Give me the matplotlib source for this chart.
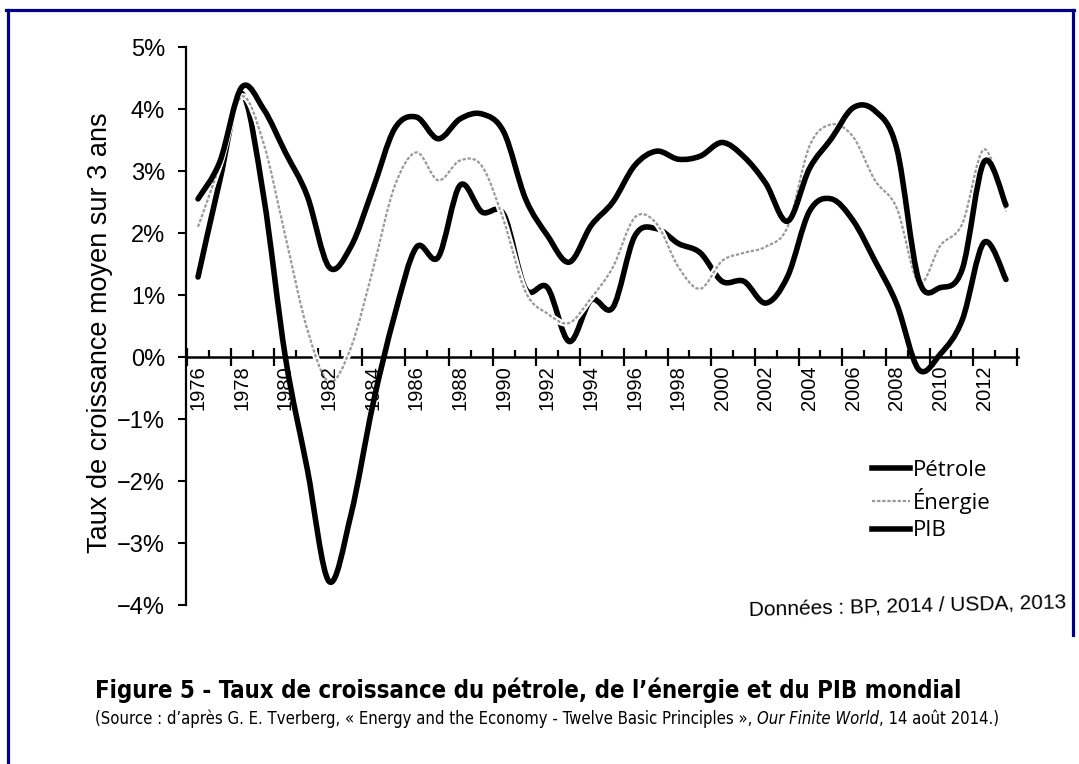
import matplotlib
matplotlib.use("Agg")
import matplotlib.pyplot as plt
import numpy as np
from matplotlib.path import Path
from matplotlib.patches import PathPatch
from matplotlib.lines import Line2D
from matplotlib import font_manager
from matplotlib.font_manager import FontProperties

# Données (taux de croissance moyen sur 3 ans, en %)
annees = list(range(1976, 2014))
pib = [2.55, 3.15, 4.35, 4.0, 3.3, 2.6, 1.45, 1.78, 2.7, 3.68,
       3.87, 3.52, 3.84, 3.92, 3.63, 2.55, 1.96, 1.53, 2.12, 2.5,
       3.09, 3.32, 3.19, 3.24, 3.46, 3.23, 2.8, 2.19, 3.04, 3.52,
       4.02, 3.97, 3.36, 1.25, 1.12, 1.42, 3.15, 2.45]
petrole = [1.29, 2.85, 4.25, 2.6, 0.0, -1.8, -3.62, -2.55, -0.78, 0.67,
           1.77, 1.61, 2.77, 2.34, 2.3, 1.1, 1.12, 0.25, 0.92, 0.8,
           1.95, 2.07, 1.83, 1.68, 1.22, 1.22, 0.87, 1.3, 2.35, 2.55,
           2.2, 1.55, 0.85, -0.2, 0.05, 0.6, 1.85, 1.25]
energie = [2.1, 3.1, 4.2, 3.45, 1.95, 0.45, -0.4, 0.15, 1.4, 2.75,
           3.3, 2.85, 3.17, 3.08, 2.2, 1.05, 0.7, 0.55, 0.95, 1.45,
           2.25, 2.15, 1.45, 1.1, 1.55, 1.68, 1.78, 2.1, 3.4, 3.75,
           3.55, 2.85, 2.4, 1.2, 1.8, 2.15, 3.35, 2.35]
annees_etiquettes = list(range(1976, 2013, 2))
y_graduations = [5, 4, 3, 2, 1, 0, -1, -2, -3, -4]

W, H = 1079, 764
noms = {f.name for f in font_manager.fontManager.ttflist}
police_etroite = 'Liberation Sans Narrow' if 'Liberation Sans Narrow' in noms else 'DejaVu Sans'
plt.rcParams['font.family'] = ['Liberation Sans', 'DejaVu Sans']


def fx(x):
    return x / W


def fy(y):
    return 1 - y / H


def chemin_lisse(x, y):
    # courbe lissée façon tableur (Bézier passant par chaque point)
    pts = np.column_stack([np.asarray(x, float), np.asarray(y, float)])
    n = len(pts)
    verts = [pts[0]]
    codes = [Path.MOVETO]
    for i in range(n - 1):
        p0 = pts[i - 1] if i > 0 else pts[i]
        p1, p2 = pts[i], pts[i + 1]
        p3 = pts[i + 2] if i + 2 < n else pts[i + 1]
        verts += [p1 + (p2 - p0) / 6, p2 - (p3 - p1) / 6, p2]
        codes += [Path.CURVE4] * 3
    return Path(verts, codes)


fig = plt.figure(figsize=(W / 100, H / 100), dpi=100)
ax = fig.add_axes([fx(186), fy(605), (1018 - 186) / W, (605 - 47) / H])
ax.set_xlim(1975.45, 2013.55)
ax.set_ylim(-4, 5)

for s in ['top', 'right']:
    ax.spines[s].set_visible(False)
ax.spines['left'].set_linewidth(1.6)
ax.spines['bottom'].set_position(('data', 0))
ax.spines['bottom'].set_linewidth(1.8)

ax.set_yticks(y_graduations)
ax.set_yticklabels([f"{v}%".replace('-', '\u2212') for v in y_graduations])
ax.tick_params(axis='y', direction='out', length=6, width=1.5, pad=9, labelsize=17)

ax.set_xticks([a + 0.5 for a in range(1975, 2014, 2)])
ax.set_xticks([a + 0.5 for a in range(1976, 2013, 2)], minor=True)
ax.tick_params(axis='x', which='major', direction='inout', length=13, width=1.6, labelbottom=False)
ax.tick_params(axis='x', which='minor', direction='in', length=5, width=1.6, labelbottom=False)
for a in annees_etiquettes:
    ax.annotate(str(a), xy=(a, 0), xycoords='data', xytext=(0, -6), textcoords='offset points',
                rotation=90, ha='center', va='top', fontsize=14.5, zorder=6)

ax.add_patch(PathPatch(chemin_lisse(annees, petrole), fill=False, ec='black', lw=4,
                       capstyle='round', joinstyle='round', zorder=3))
ax.add_patch(PathPatch(chemin_lisse(annees, energie), fill=False, ec='white', lw=4.5,
                       capstyle='round', joinstyle='round', zorder=3.5))
ax.add_patch(PathPatch(chemin_lisse(annees, energie), fill=False, ec='#9a9a9a', lw=1.6,
                       linestyle=(0, (1.5, 0.8)), zorder=4))
ax.add_patch(PathPatch(chemin_lisse(annees, pib), fill=False, ec='black', lw=4,
                       capstyle='round', joinstyle='round', zorder=5))

poignees = [Line2D([], [], color='black', lw=4),
            Line2D([], [], color='#9a9a9a', lw=1.6, linestyle=(0, (1.5, 0.8))),
            Line2D([], [], color='black', lw=4)]
ax.legend(poignees, ['Pétrole', 'Énergie', 'PIB'], loc='upper left',
          bbox_to_anchor=(fx(872), fy(460)), bbox_transform=fig.transFigure,
          frameon=False, prop=FontProperties(family='Open Sans', size=16),
          handlelength=1.7, handletextpad=0.15, labelspacing=0.3,
          borderpad=0, borderaxespad=0)

fig.text(fx(100), fy(333), 'Taux de croissance moyen sur 3 ans', rotation=90,
         ha='center', va='center', fontsize=19.5)
fig.text(fx(908), fy(606), 'Données : BP, 2014 / USDA, 2013', rotation=1.4,
         rotation_mode='anchor', ha='center', va='center', fontsize=15)

# titre et source, ajustés en largeur
renderer = fig.canvas.get_renderer()
titre = fig.text(fx(95), fy(690), 'Figure 5 - Taux de croissance du pétrole, de l\u2019énergie et du PIB mondial',
                 ha='left', va='center', fontsize=20, fontweight='bold',
                 family=police_etroite, fontstretch='condensed')
larg = titre.get_window_extent(renderer).width
titre.set_fontsize(20 * (965 - 95) / larg)

morceaux = [('(Source : d\u2019après G. E. Tverberg, « Energy and the Economy - Twelve Basic Principles », ', 'normal'),
            ('Our Finite World', 'italic'),
            (', 14 août 2014.)', 'normal')]
objets = []
for txt, st in morceaux:
    objets.append(fig.text(0, fy(719), txt, ha='left', va='center', fontsize=14,
                           style=st, family=police_etroite, fontstretch='condensed'))
total = sum(o.get_window_extent(renderer).width for o in objets)
taille = 14 * (1005 - 95) / total
x = 95
for o in objets:
    o.set_fontsize(taille)
    o.set_x(fx(x))
    x += o.get_window_extent(renderer).width

bleu = '#000088'
fig.add_artist(Line2D([fx(7.5), fx(7.5)], [fy(764), fy(9.5)], color=bleu, lw=2.3, transform=fig.transFigure))
fig.add_artist(Line2D([fx(6), fx(1074)], [fy(9.5), fy(9.5)], color=bleu, lw=2.3, transform=fig.transFigure))
fig.add_artist(Line2D([fx(1072.5), fx(1072.5)], [fy(9.5), fy(635)], color=bleu, lw=2.3, transform=fig.transFigure))

fig.savefig('out.png', dpi=100)
